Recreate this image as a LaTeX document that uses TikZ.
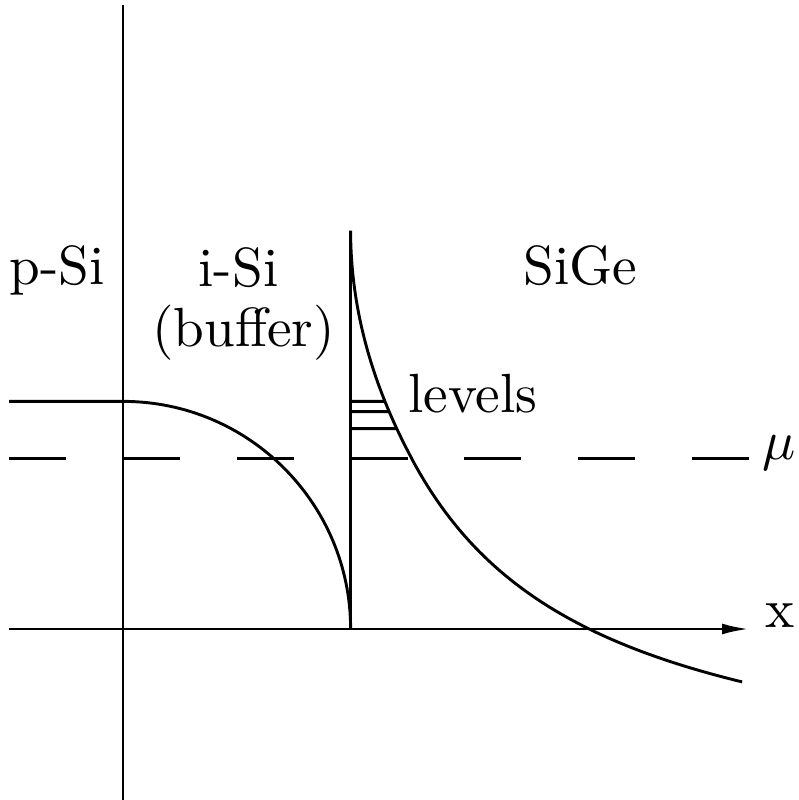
\documentclass[tikz,border=0pt]{standalone}
\usepackage{graphicx}
\usetikzlibrary{arrows.meta,intersections}
\newcommand{\bigtxt}[1]{\scalebox{2.76}{\fontsize{10}{12}\selectfont #1}}
\begin{document}
\begin{tikzpicture}[x=1cm,y=1cm,
  every path/.style={line width=1.45pt},
  lbl/.style={inner sep=0pt, anchor=base}]
\useasboundingbox (-61.5pt,-85.5pt) rectangle (337.9pt,314.5pt);
% axes
\coordinate (xs) at (-2,0);
\coordinate (xe) at (11,0);
\coordinate (ys) at (0,-3.1);
\coordinate (ye) at (0,10.97);
\draw (ys) -- (ye);
\draw[-{Latex[length=0.47cm,width=0.19cm]}] (xs) -- (xe);
% interface
\coordinate (ib) at (4,0);
\coordinate (it) at (4,7);
\draw (ib) -- (it);
% chemical potential
\coordinate (ms) at (-2,3);
\coordinate (me) at (11,3);
\draw[dash pattern=on 1cm off 1cm] (ms) -- (me);
% band in p-Si / i-Si
\coordinate (bs) at (-2,4);
\coordinate (bm) at (0,4);
\draw (bs) -- (bm) arc[start angle=90, end angle=0, radius=4];
% band in SiGe
\draw[name path=curve, line join=round]
  plot[domain=7:3, samples=50, variable=\t] ({4+0.067*(7-\t)*(7-\t)}, \t)
  -- plot[domain=5.072:10.88, samples=80, variable=\t] (\t, {-3.141+20.08/(\t-1.8)});
% levels
\foreach \yy/\nm in {4.0/a,3.82/b,3.52/c}{
  \path[name path=lev\nm] (4,\yy) -- (6,\yy);
  \draw[name intersections={of=curve and lev\nm, by=p\nm}] (4,\yy) -- (p\nm);
}
% labels
\node[lbl] (psi) at (-1.16,6.05) {\bigtxt{p-Si}};
\node[lbl] (isi) at (2.03,6.02) {\bigtxt{i-Si}};
\node[lbl] (buf) at (2.12,4.96) {\bigtxt{(buffer)}};
\node[lbl] (sige) at (8.04,6.05) {\bigtxt{SiGe}};
\node[lbl, anchor=base west] (lev) at (4.99,3.80) {\bigtxt{levels}};
\node[lbl, anchor=base west] (xl) at (11.27,0.03) {\bigtxt{x}};
\node[lbl, anchor=base west] (mu) at (11.22,2.97) {\bigtxt{$\mu$}};
\end{tikzpicture}
\end{document}
